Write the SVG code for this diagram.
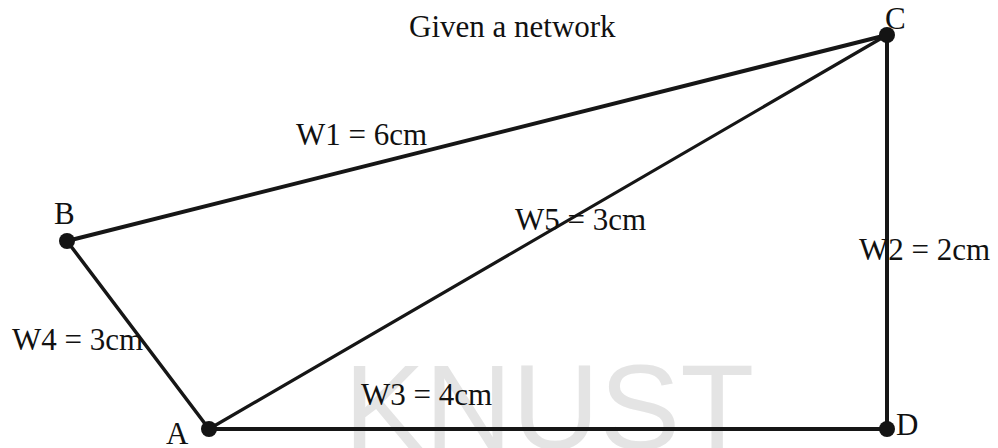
<svg xmlns="http://www.w3.org/2000/svg" width="998" height="448" viewBox="0 0 998 448">
<style>
text{font-family:"Liberation Serif","Times New Roman",serif;font-size:31px;fill:#111}
.wm{font-family:"Liberation Sans",Arial,sans-serif;font-size:121px;fill:#e4e4e4}
.e{stroke:#161616;stroke-linecap:round;fill:none}
.n{fill:#141414}
</style>
<rect width="998" height="448" fill="#fff"/>
<text class="wm" x="344" y="449">KNUST</text>
<text x="409" y="37">Given a network</text>
<g id="edges">
<line class="e" x1="67" y1="241" x2="887" y2="35" stroke-width="4"/>
<line class="e" x1="209" y1="429" x2="887" y2="35" stroke-width="3.2"/>
<line class="e" x1="887" y1="35" x2="887" y2="429" stroke-width="4"/>
<line class="e" x1="67" y1="241" x2="209" y2="429" stroke-width="3.5"/>
<line class="e" x1="209" y1="429" x2="887" y2="429" stroke-width="4"/>
<text x="296" y="145">W1 = 6cm</text>
<text x="515" y="230">W5 = 3cm</text>
<text x="859" y="260">W2 = 2cm</text>
<text x="12" y="350">W4 = 3cm</text>
<text x="361" y="405">W3 = 4cm</text>
</g>
<g id="C"><circle class="n" cx="887" cy="35" r="8"/><text x="885" y="29">C</text></g>
<g id="B"><circle class="n" cx="67" cy="241" r="8"/><text x="54" y="224">B</text></g>
<g id="A"><circle class="n" cx="209" cy="429" r="8"/><text x="166" y="444">A</text></g>
<g id="D"><circle class="n" cx="887" cy="429" r="8"/><text x="896" y="435">D</text></g>
</svg>
